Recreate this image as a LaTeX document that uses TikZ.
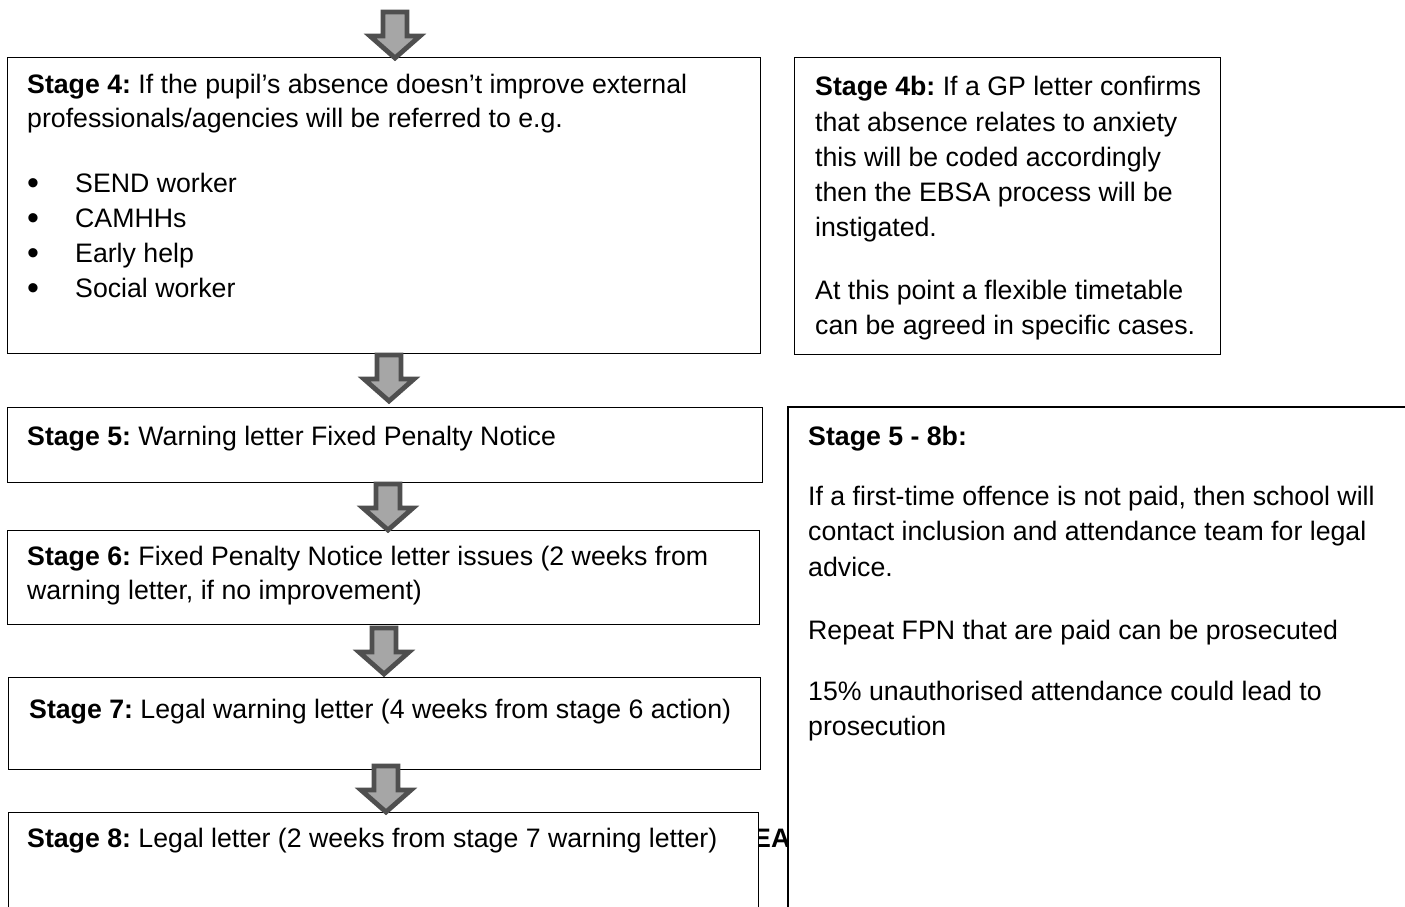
\documentclass[tikz,border=0pt]{standalone}
\usepackage{fontspec}
\setmainfont{Liberation Sans}
\frenchspacing
\definecolor{arrowedge}{HTML}{4F4F4F}
\definecolor{arrowfill}{HTML}{A6A6A6}
\begin{document}
\begin{tikzpicture}[x=1pt,y=-1pt,
  box/.style={draw=black, line width=1.1pt, fill=white, inner sep=0pt, anchor=north west},
  txt/.style={anchor=base west, inner sep=0pt, font=\fontsize{26.7pt}{35pt}\selectfont},
  bul/.style={anchor=base, inner sep=0pt, font=\fontsize{34pt}{35pt}\selectfont},
  arrowshape/.style={draw=arrowedge, fill=arrowfill, line width=4.8pt, line join=miter},
  darrow/.pic={\path[arrowshape] (-12,0) -- (12,0) -- (12,24) -- (25,24) -- (0,46) -- (-25,24) -- (-12,24) -- cycle;}
]
\useasboundingbox (0,0) rectangle (1405,906);
\begin{scope}
\clip (0,0) rectangle (1405,906);
% partly hidden text behind boxes
\node[txt, font=\fontsize{26.7pt}{35pt}\selectfont\bfseries] (ea) at (753,847) {EA};

% Stage 4
\node[box, minimum width=753pt, minimum height=296pt] (s4) at (7,57) {};
\node[txt] (s4l1) at (27,93) {\textbf{Stage 4:} If the pupil’s absence doesn’t improve external};
\node[txt] (s4l2) at (27,127) {professionals/agencies will be referred to e.g.};
\node[bul] (b1) at (33,194) {•};
\node[bul] (b2) at (33,229) {•};
\node[bul] (b3) at (33,264) {•};
\node[bul] (b4) at (33,299) {•};
\node[txt] (i1) at (75,192) {SEND worker};
\node[txt] (i2) at (75,227) {CAMHHs};
\node[txt] (i3) at (75,262) {Early help};
\node[txt] (i4) at (75,297) {Social worker};

% Stage 4b
\node[box, minimum width=426pt, minimum height=297pt] (s4b) at (794,57) {};
\node[txt] (b4l1) at (815,95) {\textbf{Stage 4b:} If a GP letter confirms};
\node[txt] (b4l2) at (815,131) {that absence relates to anxiety};
\node[txt] (b4l3) at (815,166) {this will be coded accordingly};
\node[txt] (b4l4) at (815,201) {then the EBSA process will be};
\node[txt] (b4l5) at (815,236) {instigated.};
\node[txt] (b4l6) at (815,299) {At this point a flexible timetable};
\node[txt] (b4l7) at (815,334) {can be agreed in specific cases.};

% Stage 5
\node[box, minimum width=755pt, minimum height=75pt] (s5) at (7,407) {};
\node[txt] (s5l1) at (27,445) {\textbf{Stage 5:} Warning letter Fixed Penalty Notice};

% Stage 6
\node[box, minimum width=752pt, minimum height=94pt] (s6) at (7,530) {};
\node[txt] (s6l1) at (27,565) {\textbf{Stage 6:} Fixed Penalty Notice letter issues (2 weeks from};
\node[txt] (s6l2) at (27,599) {warning letter, if no improvement)};

% Stage 7
\node[box, minimum width=752pt, minimum height=92pt] (s7) at (8,677) {};
\node[txt] (s7l1) at (29,718) {\textbf{Stage 7:} Legal warning letter (4 weeks from stage 6 action)};

% Stage 8
\node[box, minimum width=750pt, minimum height=120pt] (s8) at (8,812) {};
\node[txt] (s8l1) at (27,847) {\textbf{Stage 8:} Legal letter (2 weeks from stage 7 warning letter)};

% Stage 5 - 8b (open box running off the page)
\fill[white] (788,407) rectangle (1405,920);
\draw[line width=1.1pt] (1406,407) coordinate (rtop) -- (788,407) coordinate (rcorner) -- (788,920) coordinate (rbottom);
\node[txt] (r1) at (808,445) {\textbf{Stage 5 - 8b:}};
\node[txt] (r2) at (808,505) {If a first-time offence is not paid, then school will};
\node[txt] (r3) at (808,540) {contact inclusion and attendance team for legal};
\node[txt] (r4) at (808,576) {advice.};
\node[txt] (r5) at (808,639) {Repeat FPN that are paid can be prosecuted};
\node[txt] (r6) at (808,700) {15\% unauthorised attendance could lead to};
\node[txt] (r7) at (808,735) {prosecution};

% block arrows
\pic (a1) at (395,12) {darrow};
\pic (a2) at (389,355) {darrow};
\pic (a3) at (388,484) {darrow};
\pic (a4) at (384,628) {darrow};
\pic (a5) at (386,766) {darrow};
\end{scope}
\end{tikzpicture}
\end{document}
